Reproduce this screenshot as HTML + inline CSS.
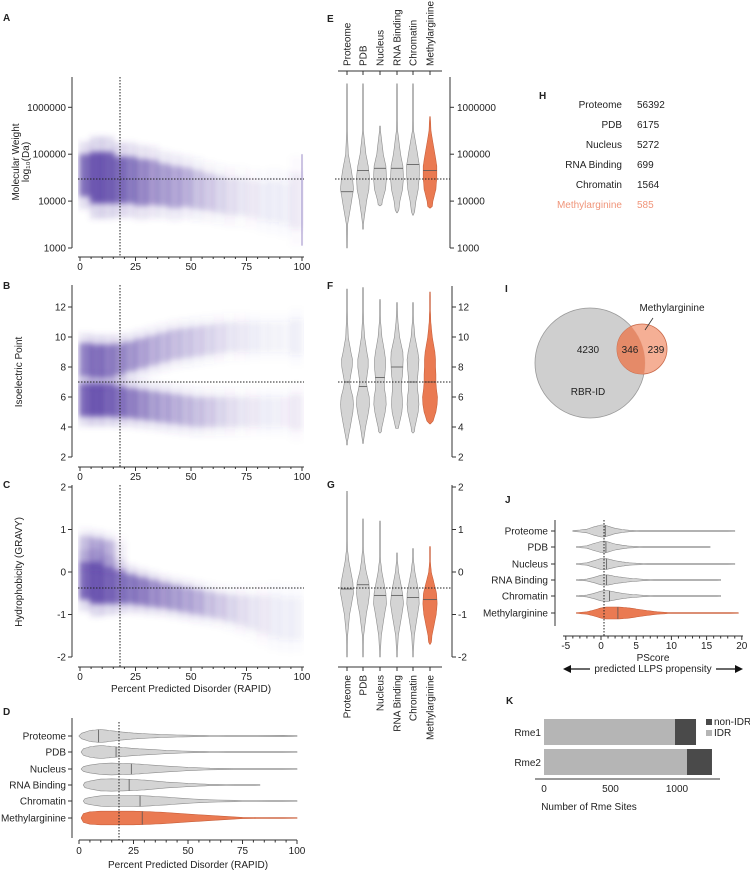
<!DOCTYPE html>
<html><head><meta charset="utf-8"><style>
html,body{margin:0;padding:0;background:#fff}
svg{display:block;font-family:"Liberation Sans",Arial,sans-serif}
</style></head><body>
<svg id="fig" width="750" height="870" viewBox="0 0 750 870" xmlns="http://www.w3.org/2000/svg">
<defs>
<filter id="blur" x="-20%" y="-20%" width="140%" height="140%"><feGaussianBlur stdDeviation="3"/></filter>
<clipPath id="clipA"><rect x="78" y="75" width="226" height="176"/></clipPath>
<clipPath id="clipB"><rect x="78" y="285" width="226" height="175"/></clipPath>
<clipPath id="clipC"><rect x="78" y="484" width="226" height="176"/></clipPath>
</defs>
</svg>
<script>
// ---------- data ----------
const binX=[2.5,7.5,12.5,17.5,22.5,27.5,32.5,37.5,42.5,47.5,52.5,57.5,62.5,67.5,72.5,77.5,82.5,87.5,92.5,97.5];
const mwCenter=[4.55,4.5,4.5,4.45,4.45,4.4,4.4,4.35,4.3,4.3,4.25,4.2,4.15,4.1,4.1,4.05,4.0,4.0,3.95,4.0];
const mwSpread=[0.45,0.55,0.55,0.5,0.5,0.5,0.48,0.45,0.45,0.42,0.42,0.4,0.4,0.4,0.4,0.4,0.42,0.45,0.45,0.6];
const mwDensity=[0.85,1,0.95,0.85,0.75,0.65,0.55,0.5,0.45,0.4,0.3,0.25,0.2,0.15,0.12,0.1,0.08,0.08,0.07,0.1];
const piLow=[5.8,5.8,5.8,5.7,5.6,5.5,5.4,5.3,5.2,5.1,5.0,5.0,5.0,5.0,5.0,5.0,5.0,5.0,5.0,5.0];
const piHigh=[8.5,8.4,8.4,8.5,8.7,8.9,9.1,9.3,9.5,9.6,9.7,9.8,9.9,10,10,10,10,10,10,10];
const piSpread=[1.1,1.1,1.1,1.05,1.0,1.0,1.0,1.0,1.0,1.0,1.0,1.0,1.0,1.0,1.0,1.0,1.0,1.0,1.0,1.2];
const piDensity=[0.9,1,0.9,0.8,0.7,0.6,0.5,0.45,0.4,0.35,0.3,0.25,0.2,0.15,0.12,0.1,0.08,0.07,0.06,0.1];
const gvCenter=[-0.2,-0.25,-0.3,-0.35,-0.4,-0.45,-0.5,-0.55,-0.6,-0.65,-0.7,-0.75,-0.8,-0.85,-0.9,-0.95,-1.0,-1.05,-1.1,-1.1];
const gvSpread=[0.45,0.5,0.45,0.4,0.35,0.33,0.32,0.3,0.3,0.3,0.3,0.3,0.3,0.32,0.35,0.4,0.45,0.5,0.5,0.5];
const gvDensity=[0.9,1,0.9,0.8,0.75,0.7,0.6,0.55,0.5,0.45,0.4,0.3,0.25,0.2,0.15,0.12,0.1,0.08,0.07,0.07];
const gvBump=[0.35,0.45,0.4,0.1,0,0,0,0,0,0,0,0,0,0,0,0,0,0,0,0];

const cats=["Proteome","PDB","Nucleus","RNA Binding","Chromatin","Methylarginine"];
const eGrid=[3,3.5,4,4.25,4.5,4.75,5,5.5,6,6.5];
const eDens=[[0.05,0.1,0.7,1,0.85,0.55,0.2,0.05,0.02,0.01],[0,0.05,0.55,0.9,1,0.8,0.45,0.05,0.02,0.01],[0,0,0.35,0.85,1,0.9,0.5,0.08,0,0],[0,0,0.45,0.85,1,0.9,0.55,0.1,0.02,0.01],[0,0,0.45,0.8,0.95,1,0.7,0.1,0.02,0.01],[0,0,0.45,0.9,1.05,1.05,0.75,0.15,0,0]];
const eMin=[3.0,3.4,3.9,3.75,3.7,3.85];
const eMax=[6.5,6.5,5.6,6.5,6.5,5.8];
const eMed=[4.2,4.65,4.7,4.7,4.78,4.65];
const fGrid=[3,4,5,5.5,6,6.5,7,7.5,8,8.5,9,10,11,12,13];
const fDens=[[0.05,0.5,0.9,1,0.9,0.6,0.4,0.6,0.8,0.85,0.6,0.2,0.1,0.05,0],[0.05,0.4,0.85,1,0.95,0.7,0.5,0.65,0.8,0.8,0.6,0.25,0.1,0.05,0],[0,0.3,0.8,0.95,0.9,0.7,0.65,0.75,0.85,0.85,0.7,0.3,0.1,0.03,0],[0,0.25,0.75,0.85,0.8,0.7,0.7,0.85,0.9,0.95,0.9,0.4,0.15,0.05,0],[0,0.3,0.8,0.9,0.85,0.7,0.65,0.75,0.85,0.9,0.75,0.3,0.1,0.03,0],[0,0.2,0.9,1.1,1.15,1.0,0.9,0.9,0.85,0.85,0.75,0.35,0.12,0.05,0]];
const fMin=[2.8,2.9,3.6,3.9,3.6,4.2];
const fMax=[13.2,13.3,12.5,12.3,12.3,13.0];
const fMed=[7.0,6.7,7.3,8.0,7.0,7.0];
const gGrid=[-2,-1.5,-1,-0.75,-0.5,-0.25,0,0.25,0.5,1,1.5,2];
const gDens=[[0.02,0.1,0.4,0.7,1,0.9,0.6,0.3,0.1,0.03,0.01,0],[0.02,0.1,0.5,0.8,1,0.9,0.5,0.25,0.08,0.02,0,0],[0.02,0.2,0.7,1,0.9,0.6,0.3,0.1,0.03,0.01,0,0],[0.02,0.2,0.75,1,0.85,0.55,0.25,0.08,0.02,0,0,0],[0.02,0.2,0.7,0.95,0.9,0.6,0.3,0.1,0.02,0,0,0],[0.02,0.3,0.95,1.1,1.0,0.6,0.2,0.05,0.01,0,0,0]];
const gMin=[-2,-2,-2,-2,-2,-1.7];
const gMax=[1.9,1.25,1.2,0.45,0.55,0.6];
const gMed=[-0.4,-0.3,-0.55,-0.55,-0.6,-0.65];
const dGrid=[0,5,10,15,20,25,30,40,50,60,75,100];
const dDens=[[0.3,0.85,1,0.8,0.6,0.45,0.35,0.2,0.12,0.08,0.05,0.12],[0.3,0.8,1,0.85,0.7,0.55,0.45,0.25,0.12,0.08,0.05,0.06],[0.2,0.6,0.85,0.9,0.85,0.8,0.7,0.45,0.25,0.12,0.05,0.04],[0.2,0.6,0.9,0.95,0.9,0.85,0.75,0.45,0.25,0.1,0.04,0],[0.15,0.55,0.8,0.85,0.85,0.85,0.8,0.6,0.35,0.18,0.08,0.05],[0.5,0.95,1.05,1.05,1.05,1.05,1.0,0.85,0.6,0.4,0.1,0.02]];
const dMin=[0,1,1,2,2,1];
const dMax=[100,100,100,83,100,100];
const dMed=[9,17,24,23,28,29];
const jGrid=[-4,-2,-1,0,0.5,1,2,3,4,6,8,10,15,20];
const jDens=[[0.05,0.3,0.7,1,1,0.8,0.45,0.25,0.12,0.05,0.03,0.02,0.01,0.01],[0,0.2,0.6,0.9,1,0.85,0.5,0.3,0.15,0.05,0.02,0.01,0.01,0],[0,0.2,0.55,0.9,0.95,0.85,0.55,0.35,0.2,0.08,0.04,0.02,0.01,0.01],[0,0.15,0.45,0.8,0.85,0.85,0.6,0.45,0.3,0.12,0.05,0.03,0.01,0],[0,0.15,0.45,0.8,0.9,0.9,0.65,0.45,0.3,0.12,0.05,0.03,0.01,0],[0,0.2,0.5,0.85,0.95,1.0,1.0,0.95,0.85,0.5,0.2,0.05,0.02,0.01]];
const jMin=[-4,-3.5,-3.5,-3.5,-3.5,-3.5];
const jMax=[19,15.5,19,17,17,19.5];
const jMed=[0.6,0.7,0.8,0.8,1.2,2.4];
const hCounts=[56392,6175,5272,699,1564,585];
const rmeCats=["Rme1","Rme2"];
const rmeIDR=[985,1075];
const rmeNonIDR=[158,188];
const vennBig=4230, vennOverlap=346, vennSmall=239;

// ---------- helpers ----------
const NS="http://www.w3.org/2000/svg";
const svg=document.getElementById('fig');
const PURPLE="#5a43a6", GREY="#d4d4d4", GSTROKE="#8c8c8c", ORANGE="#ea7a52";
function mk(tag,attrs,name,parent){
  const e=document.createElementNS(NS,tag);
  for(const k in attrs) e.setAttribute(k,attrs[k]);
  
  
  (parent||svg).appendChild(e);
  return e;
}
function txt(x,y,s,size,anchor,name,extra,parent){
  const a={x:x,y:y,'font-size':size,'text-anchor':anchor||'start',fill:'#222'};
  for(const k in (extra||{})) a[k]=extra[k];
  const t=mk('text',a,name,parent); t.textContent=s; return t;
}
function line(x1,y1,x2,y2,name,w,col,dash,parent){
  const a={x1:x1,y1:y1,x2:x2,y2:y2,stroke:col||'#333','stroke-width':w||1};
  if(dash) a['stroke-dasharray']=dash;
  return mk('line',a,name,parent);
}
function letter(x,y,s){ txt(x,y,s,10,'start','panel-label-'+s.toLowerCase(),{'font-weight':'bold'}); }

// ---------- scatter panels ----------
const xS=v=>80+v*2.22;
const yA=v=>248-(v-3)*46.9;
const yB=v=>457-(v-2)*15;
const yC=v=>572-v*42.5;
function cloud(centers,spreads,dens,ys,clip,name){
  const g=mk('g',{'clip-path':'url(#'+clip+')'},name);
  const gb=mk('g',{filter:'url(#blur)'},name+'-density',g);
  binX.forEach((b,i)=>{
    const x0=xS(b-2.5)-1, w=xS(b+2.5)-xS(b-2.5)+2;
    const sh=spreads[i]*1.6;
    mk('rect',{x:x0,y:ys(centers[i]+sh),width:w,height:ys(centers[i]-sh)-ys(centers[i]+sh),fill:PURPLE,opacity:(dens[i]*0.2).toFixed(3)},'scatter-halo',gb);
    mk('rect',{x:x0,y:ys(centers[i]+spreads[i]),width:w,height:ys(centers[i]-spreads[i])-ys(centers[i]+spreads[i]),fill:PURPLE,opacity:(dens[i]*0.85).toFixed(3)},'scatter-core',gb);
  });
  return g;
}
function leftAxis(x,ticks,ys,labels,top,bot,name){
  line(x,top,x,bot,name+'-line',1);
  ticks.forEach((t,i)=>{ line(x-4,ys(t),x,ys(t),name+'-tick'); txt(x-6,ys(t)+3.5,labels[i],10,'end',name+'-label'); });
}
function bottomAxis(y,name){
  line(78,y,304,y,name+'-line',1);
  [0,25,50,75,100].forEach(t=>{ line(xS(t),y,xS(t),y+4,name+'-tick'); txt(xS(t),y+13,String(t),10,'middle',name+'-label'); });
  for(let t=5;t<100;t+=5) if(t%25) line(xS(t),y,xS(t),y+2,name+'-minor-tick');
}
// A
letter(3,21,'A');
const cA=cloud(mwCenter,mwSpread,mwDensity,yA,'clipA','scatter-mw');
mk('rect',{x:301,y:yA(5),width:2,height:yA(3.05)-yA(5),fill:PURPLE,opacity:0.3},'scatter-mw-100-strip',cA);
leftAxis(72,[3,4,5,6],yA,["1000","10000","100000","1000000"],77,248,'y-axis-mw');
bottomAxis(257,'x-axis-a');
txt(0,0,'Molecular Weight',10,'middle','y-axis-title-mw',{transform:'translate(19,162) rotate(-90)'});
txt(0,0,'log₁₀(Da)',10,'middle','y-axis-title-mw-unit',{transform:'translate(29,162) rotate(-90)'});
line(120,77,120,257,'disorder-threshold-a',1,'#222','1.5,1.5');
line(78,179,304,179,'mw-median-a',1,'#222','1.5,1.5');
// B
letter(3,289,'B');
const cB=cloud(piLow,piSpread,piDensity,yB,'clipB','scatter-pi-low');
cloud(piHigh,piSpread,piDensity.map(d=>d*0.8),yB,'clipB','scatter-pi-high');
leftAxis(72,[2,4,6,8,10,12],yB,["2","4","6","8","10","12"],285,457,'y-axis-pi');
bottomAxis(467,'x-axis-b');
txt(0,0,'Isoelectric  Point',10,'middle','y-axis-title-pi',{transform:'translate(22,372) rotate(-90)'});
line(120,285,120,467,'disorder-threshold-b',1,'#222','1.5,1.5');
line(78,382,304,382,'pi-median-b',1,'#222','1.5,1.5');
// C
letter(3,488,'C');
cloud(gvCenter,gvSpread,gvDensity,yC,'clipC','scatter-gravy');
cloud(gvCenter.map((c,i)=>c+0.75),gvBump.map(()=>0.3),gvBump,yC,'clipC','scatter-gravy-bump');
leftAxis(72,[-2,-1,0,1,2],yC,["-2","-1","0","1","2"],485,657,'y-axis-gravy');
bottomAxis(667,'x-axis-c');
txt(191,692,'Percent Predicted Disorder (RAPID)',10,'middle','x-axis-title-c');
txt(0,0,'Hydrophobicity (GRAVY)',10,'middle','y-axis-title-gravy',{transform:'translate(22,572) rotate(-90)'});
line(120,485,120,667,'disorder-threshold-c',1,'#222','1.5,1.5');
line(78,588,304,588,'gravy-median-c',1,'#222','1.5,1.5');

// ---------- violin helper ----------
function violin(grid,dens,vmin,vmax,med,pos,cen,half,vertical,color,name){
  const vs=[vmin].concat(grid.filter(v=>v>vmin&&v<vmax)).concat([vmax]);
  const interp=v=>{for(let i=0;i<grid.length-1;i++){if(v>=grid[i]&&v<=grid[i+1]){const t=(v-grid[i])/(grid[i+1]-grid[i]);return dens[i]+(dens[i+1]-dens[i])*t;}}return v<grid[0]?dens[0]:dens[dens.length-1];};
  const fine=[];
  for(let k=0;k<vs.length-1;k++){for(let s=0;s<4;s++)fine.push(vs[k]+(vs[k+1]-vs[k])*s/4);}
  fine.push(vmax);
  const w=fine.map((v,i)=>(i===0||i===fine.length-1)?0.3:Math.max(0.4,interp(v)*half));
  const P=(v,o)=>vertical?[cen+o,pos(v)]:[pos(v),cen+o];
  let d='';
  fine.forEach((v,i)=>{const p=P(v,w[i]);d+=(i?'L':'M')+p[0].toFixed(1)+','+p[1].toFixed(1);});
  for(let i=fine.length-1;i>=0;i--){const p=P(fine[i],-w[i]);d+='L'+p[0].toFixed(1)+','+p[1].toFixed(1);}
  mk('path',{d:d+'Z',fill:color,stroke:color===ORANGE?'#c9603c':GSTROKE,'stroke-width':0.6},name);
  const mw=Math.max(1.5,interp(med)*half);
  const a=P(med,-mw),b=P(med,mw);
  line(a[0],a[1],b[0],b[1],name+'-median',0.8,'#555');
}
const colX=[347,363,380,397,413,430];
// E
letter(327,22,'E');
const yE=v=>248-(v-3)*46.9;
line(338,71,442,71,'e-category-axis',1);
cats.forEach((c,i)=>{line(colX[i],71,colX[i],75,'e-category-tick');txt(0,0,c,10,'start','e-category-label',{transform:'translate('+(colX[i]+3.5)+',66) rotate(-90)'});
  violin(eGrid,eDens[i],eMin[i],eMax[i],eMed[i],yE,colX[i],6.5,true,i===5?ORANGE:GREY,'violin-mw-'+c.toLowerCase().replace(' ','-'));});
line(450,77,450,248,'y-axis-e-line',1);
[3,4,5,6].forEach((t,i)=>{line(450,yE(t),454,yE(t),'y-axis-e-tick');txt(457,yE(t)+3.5,["1000","10000","100000","1000000"][i],10,'start','y-axis-e-label');});
line(335,179,450,179,'mw-median-e',1,'#222','1.5,1.5');
// F
letter(327,289,'F');
cats.forEach((c,i)=>violin(fGrid,fDens[i],fMin[i],fMax[i],fMed[i],yB,colX[i],6.5,true,i===5?ORANGE:GREY,'violin-pi-'+c.toLowerCase().replace(' ','-')));
line(452,286,452,457,'y-axis-f-line',1);
[2,4,6,8,10,12].forEach(t=>{line(452,yB(t),456,yB(t),'y-axis-f-tick');txt(458,yB(t)+3.5,String(t),10,'start','y-axis-f-label');});
line(338,382,452,382,'pi-median-f',1,'#222','1.5,1.5');
// G
letter(327,488,'G');
cats.forEach((c,i)=>{violin(gGrid,gDens[i],gMin[i],gMax[i],gMed[i],yC,colX[i],6.5,true,i===5?ORANGE:GREY,'violin-gravy-'+c.toLowerCase().replace(' ','-'));
  line(colX[i],667,colX[i],671,'g-category-tick');txt(0,0,c,10,'end','g-category-label',{transform:'translate('+(colX[i]+3.5)+',675) rotate(-90)'});});
line(338,667,442,667,'g-category-axis',1);
line(452,485,452,657,'y-axis-g-line',1);
[-2,-1,0,1,2].forEach(t=>{line(452,yC(t),456,yC(t),'y-axis-g-tick');txt(458,yC(t)+3.5,String(t),10,'start','y-axis-g-label');});
line(338,588,452,588,'gravy-median-g',1,'#222','1.5,1.5');
// D
letter(3,715,'D');
const xD=v=>79+v*2.18;
const rowD=[736,752,769,785,801,818];
line(72,718,72,838,'y-axis-d-line',1);
cats.forEach((c,i)=>{line(68,rowD[i],72,rowD[i],'d-category-tick');txt(66,rowD[i]+3.5,c,10,'end','d-category-label');
  violin(dGrid,dDens[i],dMin[i],dMax[i],dMed[i],xD,rowD[i],6.5,false,i===5?ORANGE:GREY,'violin-disorder-'+c.toLowerCase().replace(' ','-'));});
line(79,840,297,840,'x-axis-d-line',1);
[0,25,50,75,100].forEach(t=>{line(xD(t),840,xD(t),844,'x-axis-d-tick');txt(xD(t),854,String(t),10,'middle','x-axis-d-label');});
for(let t=5;t<100;t+=5) if(t%25) line(xD(t),840,xD(t),842.5,'x-axis-d-minor-tick');
txt(188,868,'Percent Predicted Disorder (RAPID)',10,'middle','x-axis-title-d');
line(119,722,119,840,'disorder-threshold-d',1,'#222','1.5,1.5');
// H
letter(539,99,'H');
cats.forEach((c,i)=>{const col=i===5?'#f0957a':'#222';
  txt(622,108+i*20,c,10,'end','table-label-'+c.toLowerCase().replace(' ','-'),{fill:col});
  txt(637,108+i*20,String(hCounts[i]),10,'start','table-count-'+c.toLowerCase().replace(' ','-'),{fill:col});});
// I
letter(505,292,'I');
mk('circle',{cx:590,cy:363,r:55,fill:'#cfcfcf',stroke:'#999','stroke-width':0.8},'venn-rbr-id');
mk('circle',{cx:642,cy:349,r:25,fill:'#f4a689','fill-opacity':0.9,stroke:'#c96a4a','stroke-width':0.8},'venn-methylarginine');
const vg=mk('clipPath',{id:'venncl'},'venn-clip');
mk('circle',{cx:590,cy:363,r:55},'venn-clip-circle',vg);
mk('circle',{cx:642,cy:349,r:25,fill:'#e58a68','clip-path':'url(#venncl)'},'venn-overlap');
txt(588,353,String(vennBig),10,'middle','venn-count-rbr-id');
txt(630,353,String(vennOverlap),10,'middle','venn-count-overlap');
txt(656,353,String(vennSmall),10,'middle','venn-count-methylarginine');
txt(588,395,'RBR-ID',10,'middle','venn-label-rbr-id');
txt(672,311,'Methylarginine',10,'middle','venn-label-methylarginine');
line(653,318,645,330,'venn-leader-line',0.8,'#333');
// J
letter(505,503,'J');
const xJ=v=>601+v*7.04;
const rowJ=[531,547,564,580,596,613];
line(555,520,555,626,'y-axis-j-line',1);
cats.forEach((c,i)=>{line(551,rowJ[i],555,rowJ[i],'j-category-tick');txt(548,rowJ[i]+3.5,c,10,'end','j-category-label');
  violin(jGrid,jDens[i],jMin[i],jMax[i],jMed[i],xJ,rowJ[i],6,false,i===5?ORANGE:GREY,'violin-pscore-'+c.toLowerCase().replace(' ','-'));});
line(563,636,743,636,'x-axis-j-line',1);
[-5,0,5,10,15,20].forEach(t=>{line(xJ(t),636,xJ(t),640,'x-axis-j-tick');txt(xJ(t),649,String(t),10,'middle','x-axis-j-label');});
for(let t=-4;t<20;t++) if(t%5) line(xJ(t),636,xJ(t),638.5,'x-axis-j-minor-tick');
line(604,520,604,636,'pscore-threshold-j',1,'#222','1.5,1.5');
txt(653,661,'PScore',10,'middle','x-axis-title-j');
txt(653,672,'predicted LLPS propensity',10,'middle','x-axis-subtitle-j');
line(570,669,590,669,'arrow-left-line',1.2,'#111');
mk('path',{d:'M563,669 L571,665 L571,673 Z',fill:'#111'},'arrow-left-head');
line(716,669,736,669,'arrow-right-line',1.2,'#111');
mk('path',{d:'M743,669 L735,665 L735,673 Z',fill:'#111'},'arrow-right-head');
// K
letter(506,704,'K');
const xK=v=>544+v*0.133;
const rowK=[719,749];
rmeCats.forEach((c,i)=>{
  mk('rect',{x:xK(0),y:rowK[i],width:xK(rmeIDR[i])-xK(0),height:26,fill:'#b5b5b5'},'bar-idr-'+c.toLowerCase());
  mk('rect',{x:xK(rmeIDR[i]),y:rowK[i],width:xK(rmeIDR[i]+rmeNonIDR[i])-xK(rmeIDR[i]),height:26,fill:'#4a4a4a'},'bar-non-idr-'+c.toLowerCase());
  txt(541,rowK[i]+17,c,10,'end','k-category-label');});
line(535,779,720,779,'x-axis-k-line',1);
[0,500,1000].forEach(t=>txt(xK(t),792,String(t),10,'middle','x-axis-k-label'));
txt(589,810,'Number of Rme Sites',10,'middle','x-axis-title-k');
mk('rect',{x:706,y:719,width:6,height:6,fill:'#4a4a4a'},'legend-swatch-non-idr');
txt(714,725,'non-IDR',10,'start','legend-label-non-idr');
mk('rect',{x:706,y:730,width:6,height:6,fill:'#b5b5b5'},'legend-swatch-idr');
txt(714,736,'IDR',10,'start','legend-label-idr');
</script>
</body></html>
